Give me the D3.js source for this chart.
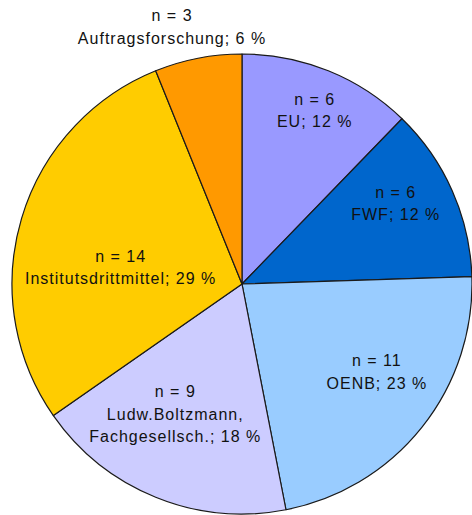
<!DOCTYPE html>
<html>
<head>
<meta charset="utf-8">
<script src="https://cdn.jsdelivr.net/npm/d3@7"></script>
<style>
  html, body { margin: 0; padding: 0; background: #fff; }
  svg text { font-family: "Liberation Sans", Arial, sans-serif; font-size: 16px; letter-spacing: 1px; fill: #111; }
</style>
</head>
<body>
<svg id="chart" width="472" height="515"></svg>
<script>
// data, clockwise from 12 o'clock
const categories = ['EU', 'FWF', 'OENB', 'Ludw.Boltzmann, Fachgesellsch.', 'Institutsdrittmittel', 'Auftragsforschung'];
const counts = [6, 6, 11, 9, 14, 3];
const percents = [12, 12, 23, 18, 29, 6];
const labelLines = [
  ['n = 6', 'EU; 12 %'],
  ['n = 6', 'FWF; 12 %'],
  ['n = 11', 'OENB; 23 %'],
  ['n = 9', 'Ludw.Boltzmann,', 'Fachgesellsch.; 18 %'],
  ['n = 14', 'Institutsdrittmittel; 29 %'],
  ['n = 3', 'Auftragsforschung; 6 %']
];

const colors = ['#9999ff', '#0066cc', '#99ccff', '#ccccff', '#ffcc00', '#ff9900'];
// label shift from the slice centroid (layout only)
const nudges = [[8, -13], [-4, -10], [0, -19], [-2, -29], [44, 33], [-37, -87]];

const cx = 242, cy = 284, radius = 230;
const svg = d3.select('#chart');
const g = svg.append('g').attr('transform', `translate(${cx},${cy})`);

const slices = categories.map((c, i) => ({ name: c, value: counts[i], pct: percents[i], i }));
const pie = d3.pie().sort(null).value(d => d.value);
const arc = d3.arc().innerRadius(0).outerRadius(radius);
const labelArc = d3.arc().innerRadius(radius * 0.75).outerRadius(radius * 0.75);

const arcs = pie(slices);

g.selectAll('path')
  .data(arcs)
  .enter()
  .append('path')
  .attr('d', arc)
  .attr('fill', d => colors[d.data.i])
  .attr('stroke', '#1a1a1a')
  .attr('stroke-width', 1.2)
  .attr('stroke-linejoin', 'round');

const lineGap = 22.5;
const labels = g.selectAll('g.label')
  .data(arcs)
  .enter()
  .append('g')
  .attr('class', 'label')
  .attr('transform', d => {
    const c = labelArc.centroid(d);
    const n = nudges[d.data.i];
    return `translate(${c[0] + n[0]},${c[1] + n[1]})`;
  });

labels.each(function(d) {
  const lines = labelLines[d.data.i];
  const sel = d3.select(this);
  lines.forEach((t, k) => {
    sel.append('text')
      .attr('text-anchor', 'middle')
      .attr('y', (k - (lines.length - 1) / 2) * lineGap + 5)
      .text(t);
  });
});
</script>
</body>
</html>
